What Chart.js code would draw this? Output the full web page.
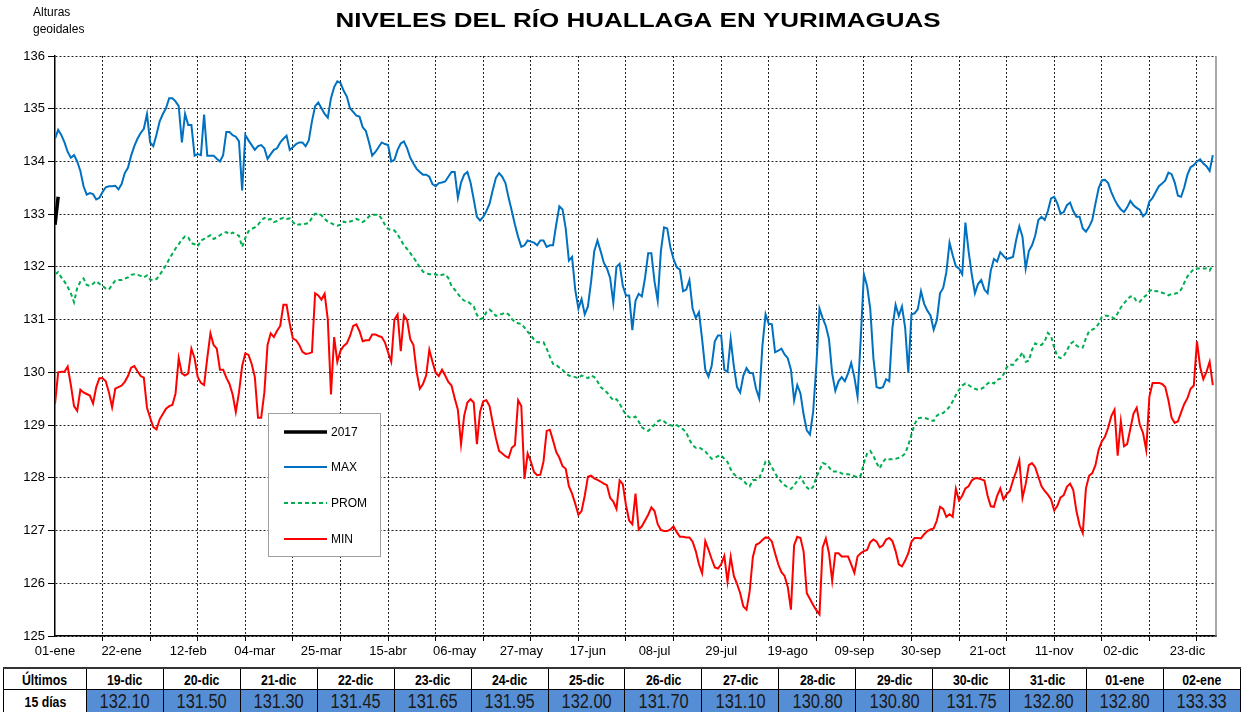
<!DOCTYPE html>
<html>
<head>
<meta charset="utf-8">
<script src="https://cdn.jsdelivr.net/npm/chart.js@4.4.0/dist/chart.umd.min.js"></script>
<style>
  body { margin: 0; background: #fff; }
  #wrap { position: relative; width: 1241px; height: 666px; }
  #tabla { position: absolute; left: 3px; top: 667px; border-collapse: collapse; table-layout: fixed;
           font-family: "Liberation Sans Narrow", "Liberation Sans", Arial, sans-serif; }
  #tabla td { border: 1px solid #000; text-align: center; padding: 0; overflow: hidden; white-space: nowrap; }
  #tabla td span { display: inline-block; transform: scaleX(0.82); }
  #tabla tr.head td { height: 20px; font-weight: bold; font-size: 15px; border-top: 2px solid #333; }
  #tabla tr.vals td { height: 22px; font-size: 20px; background: #558ED5; color: #1a1a1a; }
  #tabla tr.vals td.first { background: #fff; font-weight: bold; font-size: 15px; color: #000; }
</style>
</head>
<body>
<div id="wrap"><canvas id="niveles"></canvas></div>
<table id="tabla"></table>
<script>
// Niveles del río Huallaga en Yurimaguas - valores diarios

// etiquetas del eje x (cada 21 días desde 01-ene)
var xTickLabels = ['01-ene', '22-ene', '12-feb', '04-mar', '25-mar', '15-abr', '06-may', '27-may', '17-jun',
    '08-jul', '29-jul', '19-ago', '09-sep', '30-sep', '21-oct', '11-nov', '02-dic', '23-dic'];

// MAX, día 0 = 01-ene
var maxVals = [
    134.43, 134.6, 134.5, 134.36, 134.18, 134.07, 134.12, 134.0, 133.82, 133.53,
    133.37, 133.4, 133.38, 133.28, 133.31, 133.42, 133.51, 133.53, 133.53, 133.54,
    133.47, 133.57, 133.78, 133.88, 134.11, 134.29, 134.43, 134.54, 134.62, 134.9,
    134.36, 134.29, 134.51, 134.76, 134.9, 135.01, 135.2, 135.2, 135.14, 135.05,
    134.36, 134.9, 134.69, 134.69, 134.11, 134.14, 134.12, 134.89, 134.11, 134.11,
    134.11, 134.05, 134.0, 134.12, 134.56, 134.56, 134.5, 134.47, 134.38, 133.45,
    134.5, 134.4, 134.31, 134.22, 134.29, 134.31, 134.25, 134.05, 134.14, 134.22,
    134.25, 134.36, 134.43, 134.49, 134.22, 134.27, 134.33, 134.36, 134.36, 134.29,
    134.4, 134.76, 135.05, 135.12, 135.01, 134.9, 134.83, 135.2, 135.41, 135.52,
    135.49, 135.34, 135.23, 135.01, 134.94, 134.87, 134.85, 134.65, 134.58, 134.36,
    134.11, 134.18, 134.27, 134.36, 134.33, 134.31, 134.0, 134.03, 134.22, 134.34,
    134.38, 134.25, 134.07, 133.96, 133.86, 133.8, 133.75, 133.75, 133.71, 133.57,
    133.53, 133.59, 133.6, 133.62, 133.71, 133.8, 133.8, 133.31, 133.6, 133.75,
    133.8, 133.6, 133.28, 132.95, 132.88, 132.95, 133.06, 133.2, 133.46, 133.69,
    133.78, 133.71, 133.59, 133.31, 133.06, 132.8, 132.57, 132.38, 132.41, 132.5,
    132.48, 132.46, 132.41, 132.5, 132.5, 132.38, 132.41, 132.41, 132.8, 133.15,
    133.09, 132.73, 132.12, 132.19, 131.57, 131.21, 131.39, 131.1, 131.25, 131.72,
    132.3, 132.5, 132.3, 132.08, 131.97, 131.79, 131.32, 132.0, 132.06, 131.64,
    131.46, 131.46, 130.8, 131.36, 131.49, 131.44, 131.79, 132.26, 132.26, 131.72,
    131.36, 132.3, 132.75, 132.73, 132.37, 132.15, 131.99, 131.95, 131.54, 131.57,
    131.75, 131.21, 131.03, 131.14, 130.63, 130.05, 129.92, 130.12, 130.59, 130.7,
    130.7, 130.05, 130.01, 130.63, 130.12, 129.72, 129.62, 129.94, 130.08, 129.99,
    129.99, 129.69, 129.51, 130.5, 131.1, 130.92, 130.91, 130.38, 130.41, 130.45,
    130.34, 130.27, 130.05, 129.47, 129.76, 129.6, 129.2, 128.9, 128.82, 129.25,
    130.12, 131.21, 131.03, 130.88, 130.63, 129.98, 129.65, 129.83, 129.91, 129.83,
    129.98, 130.18, 129.91, 129.54, 130.63, 131.86, 131.64, 131.21, 130.27, 129.72,
    129.7, 129.72, 129.87, 129.83, 130.85, 131.28, 131.07, 131.25, 130.85, 130.0,
    131.1, 131.12, 131.2, 131.54, 131.3, 131.17, 131.08, 130.81, 130.99, 131.5,
    131.6, 131.9, 132.46, 132.22, 132.01, 131.97, 131.86, 132.84, 132.3, 131.86,
    131.5, 131.68, 131.75, 131.57, 131.5, 131.93, 132.15, 132.1, 132.28, 132.21,
    132.15, 132.17, 132.19, 132.51, 132.77, 132.57, 131.97, 132.3, 132.41, 132.59,
    132.89, 132.95, 132.89, 133.06, 133.3, 133.33, 133.2, 133.01, 133.04, 133.17,
    133.22, 133.06, 132.95, 132.95, 132.73, 132.67, 132.76, 132.89, 133.2, 133.49,
    133.64, 133.65, 133.59, 133.42, 133.28, 133.17, 133.09, 133.04, 133.13, 133.25,
    133.17, 133.12, 133.08, 132.96, 133.02, 133.24, 133.31, 133.42, 133.53, 133.58,
    133.64, 133.79, 133.76, 133.6, 133.35, 133.33, 133.51, 133.75, 133.89, 133.93,
    134.0, 134.04, 133.96, 133.91, 133.82, 134.12
];

// PROM
var promVals = [
    131.86, 131.9, 131.8, 131.72, 131.62, 131.5, 131.33, 131.6, 131.72, 131.78,
    131.66, 131.64, 131.68, 131.73, 131.68, 131.64, 131.59, 131.57, 131.66, 131.74,
    131.75, 131.75, 131.78, 131.8, 131.85, 131.86, 131.85, 131.83, 131.8, 131.84,
    131.76, 131.75, 131.77, 131.85, 131.94, 132.03, 132.15, 132.25, 132.35, 132.43,
    132.52, 132.58, 132.56, 132.45, 132.43, 132.39, 132.5, 132.53, 132.57, 132.6,
    132.53, 132.56, 132.6, 132.64, 132.66, 132.62, 132.65, 132.62, 132.59, 132.38,
    132.55, 132.68, 132.72, 132.75, 132.8, 132.88, 132.93, 132.89, 132.91, 132.85,
    132.87, 132.91, 132.93, 132.91, 132.92, 132.85, 132.79, 132.81, 132.8, 132.82,
    132.83, 132.93, 133.01, 133.01, 132.98, 132.91, 132.86, 132.83, 132.8, 132.78,
    132.8, 132.86, 132.84, 132.86, 132.88, 132.91, 132.89, 132.85, 132.89, 132.96,
    132.99, 132.99, 132.99, 132.91, 132.8, 132.72, 132.7, 132.69, 132.62, 132.51,
    132.41, 132.34, 132.26, 132.18, 132.09, 131.99, 131.91, 131.88, 131.86, 131.86,
    131.86, 131.83, 131.85, 131.86, 131.79, 131.64, 131.57, 131.49, 131.41, 131.36,
    131.35, 131.3, 131.25, 131.09, 131.01, 131.03, 131.14, 131.19, 131.14, 131.07,
    131.09, 131.11, 131.13, 131.1, 131.01, 130.96, 130.93, 130.92, 130.85, 130.77,
    130.71, 130.62, 130.57, 130.57, 130.57, 130.45, 130.3, 130.16, 130.14, 130.09,
    130.05, 129.98, 129.94, 129.92, 129.91, 129.89, 129.94, 129.92, 129.89, 129.94,
    129.91, 129.83, 129.72, 129.67, 129.62, 129.54, 129.47, 129.49, 129.41, 129.29,
    129.2, 129.15, 129.13, 129.16, 129.07, 128.96, 128.91, 128.89, 128.94, 129.01,
    129.07, 129.1, 129.07, 129.02, 129.0, 128.98, 129.0, 128.96, 128.92, 128.86,
    128.72, 128.62, 128.57, 128.58, 128.54, 128.5, 128.43, 128.36, 128.38, 128.41,
    128.43, 128.36, 128.3, 128.16, 128.07, 128.02, 127.99, 127.95, 127.88, 127.84,
    127.96, 127.96, 128.0, 128.13, 128.31, 128.31, 128.2, 128.09, 127.99, 127.92,
    127.86, 127.82, 127.79, 127.85, 127.95, 128.02, 127.91, 127.82, 127.77, 127.83,
    128.01, 128.14, 128.28, 128.26, 128.2, 128.12, 128.12, 128.12, 128.08, 128.07,
    128.07, 128.05, 128.03, 128.01, 128.04, 128.28, 128.46, 128.51, 128.42, 128.28,
    128.18, 128.3, 128.37, 128.35, 128.35, 128.36, 128.38, 128.41, 128.46, 128.62,
    128.82, 129.02, 129.13, 129.14, 129.14, 129.12, 129.09, 129.08, 129.18, 129.22,
    129.23, 129.28, 129.35, 129.45, 129.57, 129.67, 129.75, 129.79, 129.76, 129.72,
    129.69, 129.67, 129.69, 129.72, 129.79, 129.82, 129.79, 129.86, 129.88, 129.96,
    130.09, 130.15, 130.14, 130.23, 130.28, 130.38, 130.2, 130.22, 130.43, 130.55,
    130.52, 130.52, 130.59, 130.75, 130.69, 130.47, 130.3, 130.27, 130.31, 130.41,
    130.54, 130.58, 130.51, 130.47, 130.47, 130.65, 130.78, 130.81, 130.84, 130.92,
    131.05, 131.08, 131.07, 131.05, 131.02, 131.12, 131.23, 131.31, 131.38, 131.44,
    131.44, 131.34, 131.34, 131.41, 131.46, 131.54, 131.57, 131.54, 131.54, 131.51,
    131.49, 131.46, 131.49, 131.49, 131.51, 131.57, 131.7, 131.82, 131.89, 131.96,
    131.97, 131.97, 131.97, 131.97, 131.93, 132.04
];

// MIN
var minVals = [
    129.4, 130.0, 130.01, 130.01, 130.11, 129.76, 129.36, 129.27, 129.67, 129.62,
    129.59, 129.56, 129.41, 129.72, 129.89, 129.89, 129.83, 129.62, 129.34, 129.69,
    129.72, 129.75, 129.82, 129.93, 130.09, 130.12, 130.02, 129.93, 129.9, 129.33,
    129.14, 128.96, 128.92, 129.11, 129.21, 129.31, 129.36, 129.38, 129.6, 130.27,
    129.98, 129.94, 129.98, 130.45, 130.27, 129.91, 129.8, 129.76, 130.27, 130.74,
    130.52, 130.45, 130.05, 130.05, 129.9, 129.78, 129.58, 129.25, 129.62, 130.12,
    130.36, 130.33, 130.16, 129.91, 129.14, 129.14, 129.62, 130.52, 130.74, 130.67,
    130.79, 130.88, 131.28, 131.28, 130.92, 130.64, 130.61, 130.52, 130.39, 130.35,
    130.36, 130.38, 131.5, 131.46, 131.38, 131.49, 131.0, 129.58, 130.67, 130.2,
    130.41, 130.5, 130.55, 130.69, 130.88, 130.91, 130.78, 130.59, 130.61, 130.61,
    130.72, 130.72, 130.69, 130.67, 130.57, 130.38, 130.2, 131.0, 131.1, 130.4,
    131.08, 130.99, 130.63, 130.52, 130.01, 129.69, 129.78, 129.94, 130.43, 130.2,
    129.99, 129.93, 130.05, 129.94, 129.82, 129.75, 129.51, 129.29, 128.64, 129.18,
    129.43, 129.49, 129.43, 128.64, 129.25, 129.45, 129.47, 129.36, 129.04, 128.75,
    128.51, 128.46, 128.41, 128.38, 128.57, 128.62, 129.47, 129.36, 127.98, 128.46,
    128.31, 128.11, 128.05, 128.06, 128.31, 128.89, 128.91, 128.71, 128.49, 128.38,
    128.22, 128.17, 127.84, 127.7, 127.51, 127.3, 127.37, 127.66, 128.02, 128.04,
    127.99, 127.96, 127.93, 127.89, 127.86, 127.62, 127.55, 127.41, 127.95, 127.88,
    127.48, 127.19, 127.12, 127.7, 127.02, 127.08, 127.19, 127.3, 127.44, 127.37,
    127.12, 127.01, 126.99, 126.99, 127.02, 127.08, 126.97, 126.88, 126.88, 126.87,
    126.87, 126.79, 126.61, 126.36, 126.19, 126.8, 126.64, 126.46, 126.3, 126.28,
    126.36, 126.52, 126.03, 126.5, 126.14, 125.99, 125.81, 125.56, 125.5, 125.85,
    126.5, 126.73, 126.76, 126.82, 126.87, 126.86, 126.79, 126.57, 126.36, 126.21,
    126.14, 125.93, 125.5, 126.72, 126.88, 126.86, 126.6, 125.81, 125.7, 125.59,
    125.49, 125.41, 126.68, 126.85, 126.57, 126.05, 126.57, 126.57, 126.51, 126.51,
    126.51, 126.36, 126.2, 126.51, 126.57, 126.61, 126.63, 126.78, 126.83, 126.79,
    126.68, 126.72, 126.83, 126.86, 126.8, 126.61, 126.36, 126.32, 126.43, 126.57,
    126.79, 126.86, 126.86, 126.85, 126.93, 126.99, 127.02, 127.04, 127.19, 127.45,
    127.41, 127.26, 127.31, 127.26, 127.79, 127.57, 127.66, 127.8, 127.84, 127.95,
    127.99, 127.99, 127.97, 127.95, 127.66, 127.46, 127.45, 127.66, 127.8, 127.59,
    127.69, 127.75, 127.95, 128.12, 128.33, 127.62, 127.88, 128.24, 128.28, 128.2,
    128.02, 127.84, 127.75, 127.68, 127.59, 127.38, 127.47, 127.63, 127.67, 127.83,
    127.89, 127.77, 127.37, 127.1, 126.95, 127.8, 128.04, 128.09, 128.24, 128.53,
    128.69, 128.78, 128.95, 129.17, 129.29, 128.42, 129.07, 128.6, 128.64, 128.93,
    129.22, 129.33, 129.0, 128.85, 128.53, 129.54, 129.8, 129.8, 129.8, 129.78,
    129.72, 129.47, 129.14, 129.04, 129.07, 129.24, 129.4, 129.51, 129.69, 129.75,
    130.59, 130.1, 129.87, 130.01, 130.2, 129.76
];

// 2017 (01-ene, 02-ene)
var vals2017 = [132.80, 133.33];

// tabla "Últimos 15 días"
var tablaFechas = ['19-dic', '20-dic', '21-dic', '22-dic', '23-dic', '24-dic', '25-dic', '26-dic',
    '27-dic', '28-dic', '29-dic', '30-dic', '31-dic', '01-ene', '02-ene'];
var tablaValores = [132.10, 131.50, 131.30, 131.45, 131.65, 131.95, 132.00, 131.70,
    131.10, 130.80, 130.80, 131.75, 132.80, 132.80, 133.33];

var fontFam = '"Liberation Sans", Arial, sans-serif';

function toPoints(arr) {
    return arr.map(function (v, i) { return { x: i, y: v }; });
}

// ticks del eje x: rejilla cada 15 días, etiquetas cada 21 días
var xTickValues = [];
for (var d = 0; d <= 366; d++) {
    if (d % 15 === 0 || d % 21 === 0) xTickValues.push(d);
}

function gridOn(c) {
    return c.tick && c.tick.value % 15 === 0 && c.tick.value > 0;
}

// titulo, leyenda y marco derecho
var decorPlugin = {
    id: 'decor',
    afterDraw: function (chart) {
        var ctx = chart.ctx;
        var a = chart.chartArea;
        ctx.save();

        ctx.strokeStyle = '#8c8c8c';
        ctx.lineWidth = 1.5;
        ctx.beginPath();
        ctx.moveTo(a.right, a.top);
        ctx.lineTo(a.right, a.bottom);
        ctx.stroke();

        ctx.fillStyle = '#000';
        ctx.textBaseline = 'middle';
        ctx.textAlign = 'center';
        ctx.font = 'bold 20px ' + fontFam;
        ctx.save();
        ctx.translate(638, 21);
        ctx.scale(1.3, 1);
        ctx.fillText('NIVELES DEL RÍO HUALLAGA EN YURIMAGUAS', 0, 0);
        ctx.restore();

        ctx.textAlign = 'left';
        ctx.font = '12px ' + fontFam;
        ctx.fillText('Alturas', 33, 13);
        ctx.fillText('geoidales', 33, 30);

        // leyenda
        var bx = 268.5, by = 413.5, bw = 112, bh = 143;
        ctx.fillStyle = '#fff';
        ctx.fillRect(bx, by, bw, bh);
        ctx.strokeStyle = '#a0a0a0';
        ctx.lineWidth = 1;
        ctx.strokeRect(bx, by, bw, bh);

        var order = [3, 0, 1, 2];
        var rowY = [432, 467, 503, 539];
        order.forEach(function (idx, k) {
            var ds = chart.data.datasets[idx];
            ctx.strokeStyle = ds.borderColor;
            ctx.lineWidth = ds.borderWidth;
            ctx.setLineDash(ds.borderDash || []);
            ctx.beginPath();
            ctx.moveTo(284, rowY[k]);
            ctx.lineTo(327, rowY[k]);
            ctx.stroke();
            ctx.setLineDash([]);
            ctx.fillStyle = '#000';
            ctx.font = '12px ' + fontFam;
            ctx.fillText(ds.label, 331, rowY[k] + 1);
        });

        ctx.restore();
    }
};

var ctx = document.getElementById('niveles').getContext('2d');

var chart = new Chart(ctx, {
    type: 'line',
    data: {
        datasets: [
            { label: 'MAX', data: toPoints(maxVals), borderColor: '#0070C0', borderWidth: 2, pointRadius: 0 },
            { label: 'PROM', data: toPoints(promVals), borderColor: '#00B050', borderWidth: 2, borderDash: [4, 3], pointRadius: 0 },
            { label: 'MIN', data: toPoints(minVals), borderColor: '#FF0000', borderWidth: 2, pointRadius: 0 },
            { label: '2017', data: toPoints(vals2017), borderColor: '#000000', borderWidth: 3.5, pointRadius: 0 }
        ]
    },
    options: {
        responsive: true,
        maintainAspectRatio: false,
        animation: false,
        layout: { padding: { top: 56, right: 25, left: 0, bottom: 0 } },
        plugins: {
            legend: { display: false },
            title: { display: false },
            tooltip: { enabled: false }
        },
        scales: {
            x: {
                type: 'linear',
                min: 0,
                max: 366,
                afterBuildTicks: function (scale) {
                    scale.ticks = xTickValues.map(function (v) { return { value: v }; });
                },
                afterFit: function (scale) { scale.height = 30; },
                ticks: {
                    autoSkip: false,
                    maxRotation: 0,
                    padding: 3,
                    color: '#000',
                    font: { family: fontFam, size: 13 },
                    callback: function (v) { return v % 21 === 0 ? xTickLabels[v / 21] : ''; }
                },
                grid: {
                    color: function (c) { return gridOn(c) ? '#222' : 'rgba(0,0,0,0)'; },
                    tickColor: function (c) { return gridOn(c) ? '#000' : 'rgba(0,0,0,0)'; },
                    tickLength: 5,
                    lineWidth: 1
                },
                border: { display: true, color: '#000', width: 1.5, dash: [2, 2] }
            },
            y: {
                min: 125,
                max: 136,
                afterFit: function (scale) { scale.width = 55; },
                ticks: {
                    stepSize: 1,
                    padding: 3,
                    color: '#000',
                    font: { family: fontFam, size: 13 }
                },
                grid: { color: '#222', tickColor: '#000', tickLength: 7, lineWidth: 1 },
                border: { display: true, color: '#000', width: 1.5, dash: [2, 2] }
            }
        }
    },
    plugins: [decorPlugin]
});

// tabla inferior
var tabla = document.getElementById('tabla');
var filaFechas = '<tr class="head"><td style="width:82px"><span>Últimos</span></td>';
var filaValores = '<tr class="vals"><td class="first"><span>15 días</span></td>';
for (var i = 0; i < tablaFechas.length; i++) {
    filaFechas += '<td style="width:76px"><span>' + tablaFechas[i] + '</span></td>';
    filaValores += '<td><span>' + tablaValores[i].toFixed(2) + '</span></td>';
}
tabla.innerHTML = filaFechas + '</tr>' + filaValores + '</tr>';
</script>
</body>
</html>
